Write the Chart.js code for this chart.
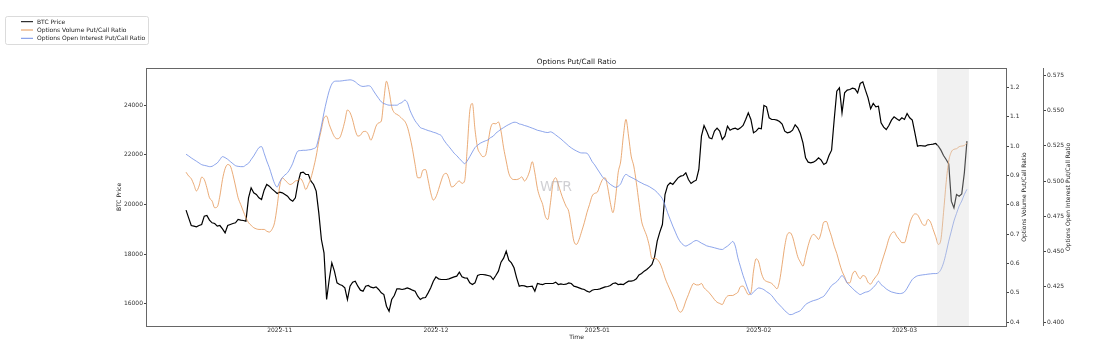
<!DOCTYPE html>
<html><head><meta charset="utf-8">
<script src="https://cdn.jsdelivr.net/npm/chart.js@4.4.1/dist/chart.umd.min.js"></script>
<style>html,body{margin:0;padding:0;background:#fff;}#wrap{width:1103px;height:358px;}</style>
</head><body><div id="wrap"><canvas id="c" width="1103" height="358"></canvas></div>
<script>
// ---- data (12-hourly samples starting at seriesStart) ----
const seriesStart = '2022-10-14T00:00:00Z';
const stepHours = 12;
const btcPrice = [
19773,19464,19155,19128,19102,19155,19195,19531,19558,19370,
19263,19236,19128,19155,19021,18860,19155,19195,19236,19263,
19397,19370,19356,19330,20269,20672,20470,20403,20269,20202,
20578,20806,20739,20631,20538,20444,20497,20470,20403,20336,
20202,20135,20269,20873,21276,21302,21208,21208,20940,20806,
20538,19665,18592,18055,16176,16981,17652,17317,16847,16780,
16740,16646,16176,16713,16874,16914,16713,16552,16512,16713,
16740,16673,16646,16686,16579,16444,16377,15908,15706,16176,
16337,16605,16605,16579,16605,16646,16605,16552,16512,16310,
16176,16243,16257,16444,16646,16914,17089,17008,16981,16981,
16981,17008,17048,17089,17115,17276,17089,17048,17035,16847,
16780,16847,17142,17183,17183,17169,17142,17115,16981,17142,
17317,17679,17840,18122,17760,17652,17451,17048,16713,16740,
16726,16686,16699,16713,16512,16820,16793,16780,16820,16820,
16820,16820,16874,16780,16807,16780,16793,16847,16820,16713,
16686,16646,16605,16579,16512,16471,16552,16579,16579,16605,
16646,16686,16699,16740,16820,16847,16780,16793,16780,16847,
16914,16914,16941,17008,17169,17223,17317,17384,17478,17585,
17894,18524,18887,19195,20403,20766,20873,20806,20940,21074,
21141,21168,21276,21007,20846,20927,20980,21410,22752,23181,
22953,22685,22644,22953,23074,22953,22618,22752,23154,22993,
23047,23074,23020,23087,23181,23423,23691,23423,22886,22953,
23074,23047,23986,23933,23490,23423,23423,23396,23342,23235,
22953,22886,22913,22993,23208,23087,22859,22483,21879,21705,
21678,21705,21772,21879,21786,21611,21678,21973,22188,23423,
24563,24698,23691,24496,24604,24631,24684,24657,24496,24872,
24939,24604,24295,23852,24067,23933,23960,23289,23114,23020,
23181,23396,23530,23450,23383,23490,23423,23664,23490,23396,
22886,22349,22376,22363,22349,22403,22416,22430,22457,22349,
22188,21973,21812,21638,20135,19866,20403,20336,20430,21276,
22550];
const volumePutCall = [
0.911,0.898,0.889,0.869,0.847,0.864,0.894,0.886,0.858,0.824,
0.813,0.790,0.793,0.830,0.886,0.923,0.937,0.932,0.903,0.864,
0.824,0.801,0.778,0.756,0.739,0.730,0.722,0.718,0.716,0.716,
0.716,0.710,0.707,0.716,0.739,0.795,0.864,0.892,0.884,0.875,
0.869,0.873,0.881,0.883,0.889,0.875,0.852,0.869,0.892,0.926,
0.966,1.017,1.057,1.096,1.102,1.074,1.051,1.032,1.025,1.028,
1.051,1.085,1.123,1.114,1.089,1.054,1.034,1.037,1.049,1.050,
1.040,1.020,1.040,1.068,1.079,1.085,1.159,1.221,1.187,1.134,
1.114,1.108,1.102,1.093,1.085,1.066,1.032,0.989,0.937,0.892,
0.892,0.918,0.920,0.884,0.841,0.816,0.827,0.852,0.881,0.903,
0.907,0.889,0.861,0.864,0.875,0.881,0.873,0.881,0.989,1.119,
1.145,1.057,0.994,0.975,0.964,0.968,1.011,1.062,1.077,1.076,
1.082,1.051,0.994,0.949,0.907,0.890,0.886,0.886,0.889,0.895,
0.881,0.892,0.915,0.947,0.909,0.855,0.824,0.801,0.761,0.750,
0.807,0.875,0.892,0.869,0.841,0.816,0.795,0.778,0.727,0.676,
0.665,0.682,0.710,0.739,0.773,0.801,0.830,0.839,0.843,0.866,
0.886,0.892,0.858,0.807,0.773,0.824,0.909,0.949,1.034,1.091,
1.034,0.966,0.932,0.875,0.807,0.744,0.716,0.693,0.659,0.616,
0.618,0.614,0.602,0.580,0.551,0.529,0.509,0.489,0.468,0.443,
0.434,0.446,0.472,0.494,0.517,0.532,0.527,0.527,0.532,0.517,
0.509,0.500,0.489,0.477,0.468,0.464,0.460,0.477,0.489,0.491,
0.491,0.496,0.502,0.521,0.523,0.509,0.494,0.500,0.574,0.616,
0.605,0.568,0.546,0.539,0.536,0.532,0.523,0.514,0.540,0.597,
0.659,0.699,0.705,0.691,0.657,0.623,0.605,0.591,0.625,0.661,
0.688,0.699,0.693,0.682,0.705,0.741,0.743,0.718,0.691,0.659,
0.634,0.602,0.574,0.555,0.534,0.534,0.563,0.574,0.559,0.548,
0.559,0.555,0.536,0.530,0.543,0.555,0.568,0.597,0.625,0.653,
0.684,0.702,0.708,0.693,0.682,0.671,0.671,0.699,0.736,0.759,
0.769,0.766,0.750,0.733,0.730,0.750,0.741,0.716,0.691,0.665,
0.682,0.773,0.875,0.949,0.980,0.989,0.991,0.998,1.000,1.002,
1.011];
const openInterestPutCall = [
0.5191,0.5179,0.5165,0.5153,0.5141,0.5129,0.5117,0.5112,0.5108,0.5103,
0.5105,0.5117,0.5129,0.5153,0.5174,0.5167,0.5155,0.5139,0.5124,0.5110,
0.5105,0.5103,0.5103,0.5115,0.5127,0.5153,0.5179,0.5210,0.5238,0.5245,
0.5198,0.5143,0.5096,0.5037,0.4984,0.4958,0.4996,0.5025,0.5044,0.5060,
0.5089,0.5127,0.5179,0.5214,0.5217,0.5219,0.5219,0.5222,0.5224,0.5231,
0.5243,0.5309,0.5392,0.5487,0.5570,0.5641,0.5689,0.5708,0.5710,0.5710,
0.5712,0.5715,0.5717,0.5719,0.5715,0.5705,0.5689,0.5677,0.5672,0.5674,
0.5677,0.5670,0.5641,0.5613,0.5587,0.5563,0.5551,0.5544,0.5539,0.5539,
0.5539,0.5539,0.5551,0.5558,0.5575,0.5558,0.5504,0.5463,0.5428,0.5404,
0.5380,0.5373,0.5366,0.5359,0.5354,0.5347,0.5342,0.5333,0.5324,0.5293,
0.5267,0.5245,0.5222,0.5198,0.5181,0.5160,0.5141,0.5124,0.5143,0.5174,
0.5207,0.5238,0.5255,0.5269,0.5278,0.5286,0.5293,0.5309,0.5319,0.5340,
0.5354,0.5369,0.5380,0.5392,0.5402,0.5411,0.5418,0.5416,0.5406,0.5402,
0.5395,0.5390,0.5383,0.5376,0.5369,0.5361,0.5357,0.5352,0.5347,0.5345,
0.5350,0.5342,0.5328,0.5314,0.5300,0.5283,0.5267,0.5250,0.5236,0.5224,
0.5214,0.5205,0.5200,0.5200,0.5198,0.5174,0.5139,0.5115,0.5086,0.5058,
0.5030,0.5011,0.4994,0.4977,0.4965,0.4956,0.4963,0.4982,0.5025,0.5048,
0.5037,0.5027,0.5018,0.5008,0.4996,0.4987,0.4977,0.4970,0.4961,0.4949,
0.4937,0.4920,0.4899,0.4875,0.4830,0.4776,0.4728,0.4681,0.4638,0.4596,
0.4567,0.4548,0.4539,0.4548,0.4558,0.4572,0.4579,0.4572,0.4560,0.4551,
0.4541,0.4536,0.4532,0.4527,0.4522,0.4517,0.4515,0.4527,0.4539,0.4555,
0.4572,0.4539,0.4456,0.4392,0.4330,0.4278,0.4226,0.4195,0.4214,0.4230,
0.4242,0.4238,0.4230,0.4216,0.4204,0.4188,0.4164,0.4140,0.4121,0.4102,
0.4081,0.4065,0.4053,0.4055,0.4065,0.4072,0.4081,0.4102,0.4124,0.4136,
0.4145,0.4152,0.4157,0.4164,0.4174,0.4183,0.4207,0.4233,0.4259,0.4273,
0.4287,0.4309,0.4330,0.4309,0.4278,0.4257,0.4240,0.4221,0.4207,0.4195,
0.4204,0.4212,0.4216,0.4228,0.4245,0.4266,0.4290,0.4266,0.4252,0.4235,
0.4223,0.4214,0.4209,0.4204,0.4202,0.4204,0.4214,0.4240,0.4273,0.4302,
0.4318,0.4328,0.4332,0.4335,0.4337,0.4340,0.4342,0.4344,0.4344,0.4349,
0.4373,0.4420,0.4491,0.4574,0.4645,0.4717,0.4771,0.4823,0.4859,0.4906,
0.4942];
const seriesNames = ['BTC Price','Options Volume Put/Call Ratio','Options Open Interest Put/Call Ratio'];
const xTickLabels = ['2022-11','2022-12','2023-01','2023-02','2023-03'];
const btcTickLabels = ['16000','18000','20000','22000','24000'];
const volTickLabels = ['0.4','0.5','0.6','0.7','0.8','0.9','1.0','1.1','1.2'];
const oiTickLabels = ['0.400','0.425','0.450','0.475','0.500','0.525','0.550','0.575'];
const highlightRange = ['2023-03-07T06:00:00Z','2023-03-13T09:00:00Z'];
const xRange = ['2022-10-06T12:00:00Z','2023-03-20T12:00:00Z'];
const btcRange = [15110, 25495];
const volRange = [0.387, 1.266];
const oiRange = [0.3972, 0.5803];
const chartTitle = 'Options Put/Call Ratio';
const xTitle = 'Time';
const watermark = 'WTR';

// ---- build ----
const FONT = "'DejaVu Sans', sans-serif";
const COLORS = ['#000000', 'rgb(228,150,84)', 'rgb(112,142,230)'];
const t0 = Date.parse(seriesStart);
const toPts = arr => arr.map((v, i) => ({x: t0 + i * stepHours * 3600e3, y: v}));
const xTickVals = xTickLabels.map(l => Date.parse(l + '-01T00:00:00Z'));

function yScale(pos, range, labels, width) {
  return {
    position: pos, min: range[0], max: range[1],
    afterBuildTicks: s => { s.ticks = labels.map(l => ({value: parseFloat(l)})); },
    afterFit: s => { s.width = width; },
    ticks: {autoSkip: false, padding: 1, color: '#333', font: {family: FONT, size: 6},
            callback: (v, i) => labels[i]},
    grid: {display: true, drawOnChartArea: false, drawTicks: true, tickLength: 3, tickColor: '#444'},
    border: {display: false},
    title: {display: false}
  };
}

const overlay = {
  id: 'overlay',
  afterDatasetsDraw(chart) {
    const {ctx, chartArea: a, scales} = chart;
    const x0 = scales.x.getPixelForValue(Date.parse(highlightRange[0]));
    const x1 = scales.x.getPixelForValue(Date.parse(highlightRange[1]));
    ctx.save();
    ctx.fillStyle = 'rgba(215,215,215,0.35)';
    ctx.fillRect(x0, a.top, x1 - x0, a.bottom - a.top);
    ctx.font = '14px ' + FONT;
    ctx.fillStyle = 'rgba(150,150,160,0.45)';
    ctx.textAlign = 'center'; ctx.textBaseline = 'middle';
    ctx.fillText(watermark, 556, 187);
    ctx.strokeStyle = '#666'; ctx.lineWidth = 1;
    ctx.strokeRect(Math.round(a.left) - 0.5, Math.round(a.top) + 0.5,
                   Math.round(a.right) - Math.round(a.left) + 1, Math.round(a.bottom) - Math.round(a.top));
    const oi = scales.yOi;
    ctx.beginPath(); ctx.moveTo(Math.round(oi.left) + 0.5, a.top); ctx.lineTo(Math.round(oi.left) + 0.5, a.bottom); ctx.stroke();
    ctx.restore();
  },
  afterDraw(chart) {
    const {ctx, chartArea: a} = chart;
    const cx = (a.left + a.right) / 2, cy = (a.top + a.bottom) / 2;
    ctx.save();
    ctx.fillStyle = '#222';
    ctx.textAlign = 'center'; ctx.textBaseline = 'middle';
    ctx.font = '7.3px ' + FONT;
    ctx.fillText(chartTitle, cx, 62);
    ctx.font = '6px ' + FONT;
    ctx.fillText(xTitle, cx, 337);
    const rot = (txt, x) => { ctx.save(); ctx.translate(x, cy); ctx.rotate(-Math.PI / 2); ctx.fillText(txt, 0, 0); ctx.restore(); };
    rot(seriesNames[0], 119.5);
    rot(seriesNames[1], 1024.5);
    rot(seriesNames[2], 1068.5);
    // legend
    ctx.strokeStyle = 'rgba(210,210,210,0.8)'; ctx.lineWidth = 1;
    ctx.beginPath(); ctx.roundRect(5.5, 16.5, 143, 28, 2); ctx.stroke();
    ctx.textAlign = 'left';
    seriesNames.forEach((n, i) => {
      const y = 21.7 + i * 8.3;
      ctx.strokeStyle = COLORS[i]; ctx.lineWidth = 1;
      ctx.beginPath(); ctx.moveTo(21, y); ctx.lineTo(33, y); ctx.stroke();
      ctx.fillStyle = '#222';
      ctx.fillText(n, 37, y + 0.3);
    });
    ctx.restore();
  }
};

new Chart(document.getElementById('c'), {
  type: 'line',
  data: {
    datasets: [
      {label: seriesNames[0], data: toPts(btcPrice), yAxisID: 'yBtc', borderColor: COLORS[0], borderWidth: 1.2, order: 3},
      {label: seriesNames[1], data: toPts(volumePutCall), yAxisID: 'yVol', borderColor: COLORS[1], borderWidth: 0.8, order: 2, cubicInterpolationMode: 'monotone'},
      {label: seriesNames[2], data: toPts(openInterestPutCall), yAxisID: 'yOi', borderColor: COLORS[2], borderWidth: 0.8, order: 1, cubicInterpolationMode: 'monotone'}
    ]
  },
  options: {
    responsive: false, animation: false, devicePixelRatio: 1,
    parsing: false, normalized: true,
    elements: {point: {radius: 0, hoverRadius: 0}, line: {fill: false}},
    layout: {padding: {left: 112, right: 24, top: 68, bottom: 12}},
    plugins: {legend: {display: false}, title: {display: false}, tooltip: {enabled: false}},
    events: [],
    scales: {
      x: {
        type: 'linear', min: Date.parse(xRange[0]), max: Date.parse(xRange[1]),
        afterBuildTicks: s => { s.ticks = xTickVals.map(v => ({value: v})); },
        afterFit: s => { s.height = 20; },
        ticks: {autoSkip: false, maxRotation: 0, padding: -2, color: '#333', font: {family: FONT, size: 6},
                callback: (v, i) => xTickLabels[i]},
        grid: {display: true, drawOnChartArea: false, drawTicks: true, tickLength: 3, tickColor: '#444'},
        border: {display: false}
      },
      yBtc: yScale('left', btcRange, btcTickLabels, 35),
      yVol: yScale('right', volRange, volTickLabels, 37),
      yOi: yScale('right', oiRange, oiTickLabels, 36)
    }
  },
  plugins: [overlay]
});
</script>
</body></html>
